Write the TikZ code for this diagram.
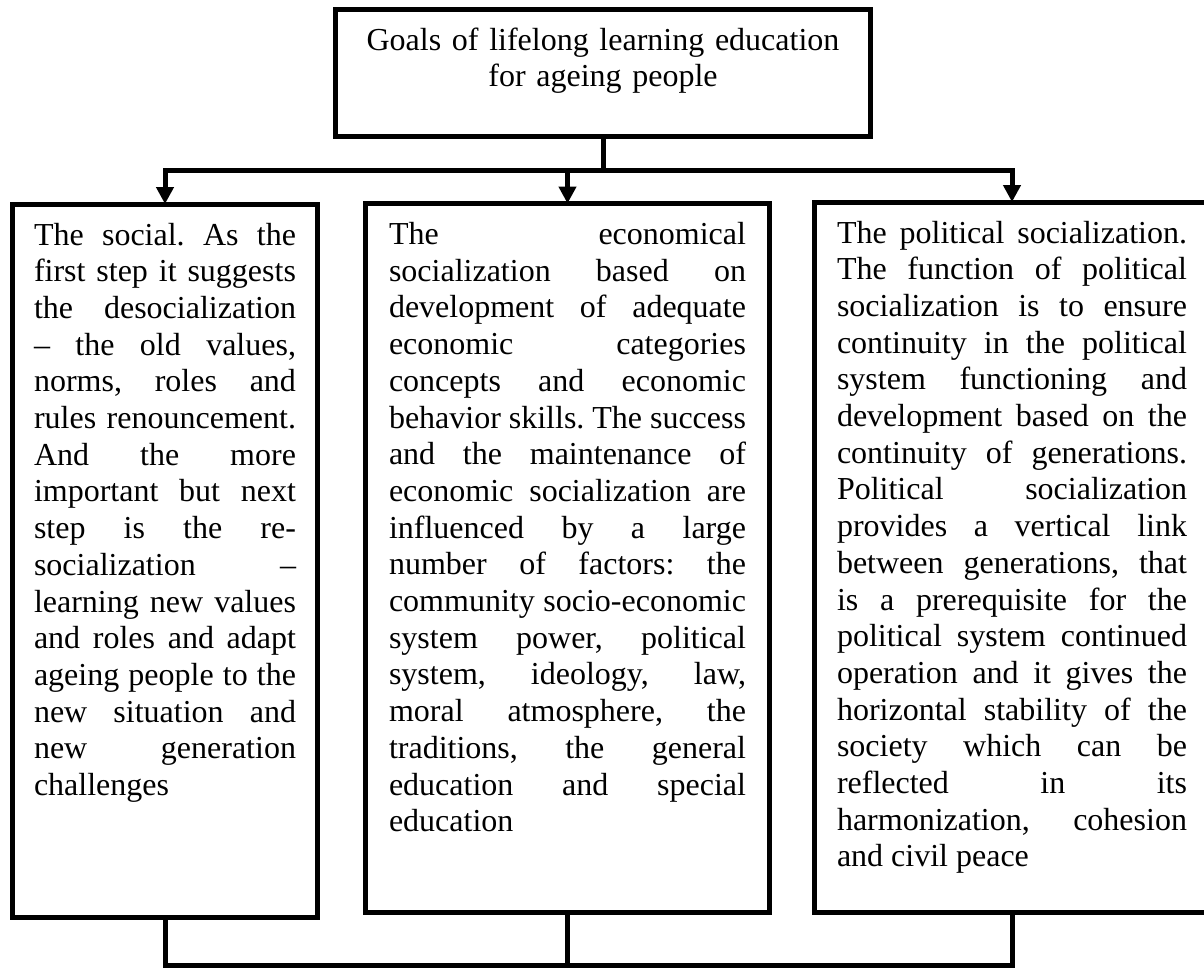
\documentclass[tikz,border=0pt]{standalone}
\usepackage{fontspec}
\setmainfont{Liberation Serif}
\usetikzlibrary{arrows.meta}

\begin{document}
\begin{tikzpicture}[x=0.5pt,y=-0.5pt,
  box/.style={draw,line width=2.5pt,outer sep=0pt,anchor=north west,align=justify,
    font=\fontsize{16}{18.35}\selectfont\frenchspacing,text height=12pt,inner ysep=8.5pt},
  link/.style={line width=2.5pt},
  arrow/.style={link,-{Triangle[width=8.5pt,length=8.5pt]}}]
\useasboundingbox (0,0) rectangle (1204,970);
\node[box,align=center,text width=240pt,inner xsep=13.75pt,inner ysep=8.25pt,text depth=35pt] (goal) at (335.5,9.5)
  {Goals of lifelong learning education\\ for ageing people};
\node[box,text width=131pt,inner xsep=10.75pt,text depth=327.75pt] (social) at (12.5,204)
  {The social. As the\linebreak first step it suggests\linebreak the desocialization\linebreak – the old values,\linebreak
   norms, roles and\linebreak rules renouncement.\linebreak And the more\linebreak important but next\linebreak
   step is the re-\linebreak socialization –\linebreak learning new values\linebreak and roles and adapt\linebreak
   ageing people to the\linebreak new situation and\linebreak new generation\linebreak challenges};
\node[box,text width=178.5pt,inner xsep=11.75pt,text depth=325.5pt] (economic) at (365.5,203.5)
  {The economical\linebreak socialization based on\linebreak development of adequate\linebreak economic categories\linebreak
   concepts and economic\linebreak behavior skills. The success\linebreak and the maintenance of\linebreak
   economic socialization are\linebreak influenced by a large\linebreak number of factors: the\linebreak
   community socio-economic\linebreak system power, political\linebreak system, ideology, law,\linebreak
   moral atmosphere, the\linebreak traditions, the general\linebreak education and special\linebreak education};
\node[box,text width=175pt,inner xsep=11.25pt,text depth=326.25pt] (political) at (814.5,202)
  {The political socialization.\linebreak The function of political\linebreak socialization is to ensure\linebreak
   continuity in the political\linebreak system functioning and\linebreak development based on the\linebreak
   continuity of generations.\linebreak Political socialization\linebreak provides a vertical link\linebreak
   between generations, that\linebreak is a prerequisite for the\linebreak political system continued\linebreak
   operation and it gives the\linebreak horizontal stability of the\linebreak society which can be\linebreak
   reflected in its\linebreak harmonization, cohesion\linebreak and civil peace};
\coordinate (bus) at (603,170.5);
\coordinate (base) at (603,965.5);
\draw[link] (goal.south) -- (bus);
\draw[arrow] (bus) -| (social.north);
\draw[arrow] (bus) -| (economic.north);
\draw[arrow] (bus) -| (political.north);
\draw[link] (social.south) |- (base) -| (political.south);
\draw[link] (economic.south) -- (economic.south |- base);
\end{tikzpicture}
\end{document}
